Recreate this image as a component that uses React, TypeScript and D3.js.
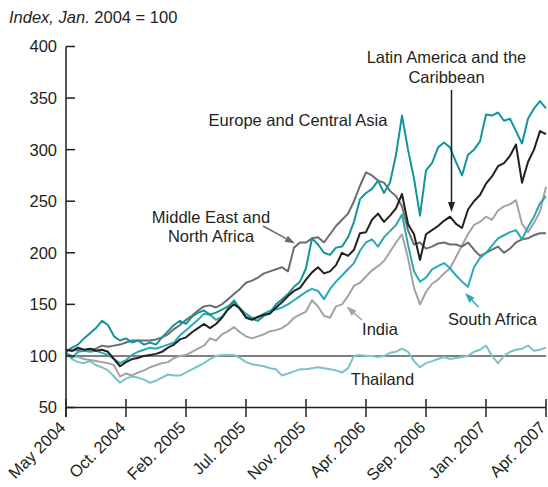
import React from "react";
import * as d3 from "d3";

// x index: 81 evenly spaced observations, May 2004 .. Apr 2007
const tickLabels = ["May 2004", "Oct. 2004", "Feb. 2005", "Jul. 2005", "Nov. 2005", "Apr. 2006", "Sep. 2006", "Jan. 2007", "Apr. 2007"];
const tickIndex = [0, 10, 20, 30, 40, 50, 60, 70, 80];
const yTicks = [50, 100, 150, 200, 250, 300, 350, 400];

const europe = [104, 108, 111, 117, 122, 127, 134, 130, 119, 115, 117, 113, 115, 111, 113, 111, 118, 124, 130, 134, 131, 138, 142, 144, 140, 142, 145, 148, 153, 145, 138, 136, 134, 139, 142, 150, 155, 160, 167, 172, 185, 214, 208, 200, 198, 205, 206, 215, 230, 252, 258, 262, 270, 258, 268, 295, 333, 300, 272, 236, 280, 287, 302, 307, 302, 288, 275, 295, 300, 308, 334, 333, 336, 328, 330, 318, 306, 330, 340, 347, 340];
const latin = [106, 105, 108, 106, 107, 105, 106, 104, 97, 90, 94, 97, 98, 100, 101, 102, 104, 108, 111, 116, 118, 123, 127, 131, 127, 131, 137, 145, 150, 146, 137, 135, 138, 140, 141, 147, 152, 158, 163, 166, 174, 181, 186, 180, 182, 188, 200, 197, 203, 219, 220, 232, 238, 230, 236, 243, 257, 228, 218, 193, 218, 222, 226, 231, 235, 228, 224, 242, 250, 256, 267, 274, 284, 287, 294, 305, 268, 288, 300, 318, 315];
const mena = [106, 105, 106, 105, 106, 107, 110, 109, 110, 111, 113, 115, 115, 115, 115, 116, 118, 121, 126, 130, 135, 139, 144, 148, 149, 147, 150, 155, 160, 165, 171, 173, 176, 180, 182, 184, 186, 182, 205, 210, 210, 214, 215, 210, 218, 226, 232, 238, 250, 265, 278, 275, 270, 268, 260, 255, 245, 222, 208, 210, 204, 206, 209, 210, 208, 208, 206, 210, 203, 197, 200, 203, 206, 200, 204, 210, 213, 214, 217, 219, 219];
const india = [103, 100, 99, 97, 96, 95, 94, 93, 91, 80, 83, 81, 84, 86, 89, 91, 93, 94, 98, 100, 101, 104, 107, 110, 117, 115, 121, 124, 128, 123, 119, 117, 119, 121, 124, 125, 127, 131, 137, 140, 143, 154, 148, 139, 137, 148, 150, 158, 168, 171, 177, 183, 187, 192, 201, 210, 218, 195, 166, 150, 162, 170, 174, 180, 185, 196, 207, 218, 227, 230, 235, 232, 241, 245, 247, 251, 228, 220, 229, 240, 264];
const southAfrica = [103, 98, 104, 105, 104, 105, 103, 101, 97, 93, 96, 101, 104, 106, 108, 107, 109, 111, 113, 120, 125, 130, 135, 141, 140, 135, 138, 146, 154, 146, 141, 137, 137, 141, 144, 145, 147, 150, 154, 158, 162, 165, 163, 155, 165, 172, 178, 184, 190, 202, 210, 213, 206, 215, 221, 227, 237, 208, 182, 172, 176, 184, 187, 190, 185, 178, 172, 167, 186, 195, 200, 207, 214, 217, 220, 222, 213, 225, 235, 248, 255];
const thailand = [103, 97, 94, 93, 95, 91, 89, 86, 80, 74, 78, 80, 79, 77, 74, 76, 79, 82, 81, 81, 84, 87, 90, 93, 97, 100, 101, 101, 101, 98, 94, 92, 91, 90, 88, 87, 81, 83, 85, 87, 87, 88, 89, 88, 87, 86, 84, 88, 100, 101, 100, 100, 99, 100, 103, 104, 107, 104, 95, 89, 93, 95, 97, 99, 97, 98, 99, 100, 104, 106, 110, 100, 93, 100, 104, 106, 107, 110, 105, 106, 108];

const series = [
  { name: "Thailand", values: thailand, color: "#7cc3c8" },
  { name: "India", values: india, color: "#a2a3a5" },
  { name: "Middle East and North Africa", values: mena, color: "#6b6c6e" },
  { name: "South Africa", values: southAfrica, color: "#2aa9b2" },
  { name: "Europe and Central Asia", values: europe, color: "#11959d" },
  { name: "Latin America and the Caribbean", values: latin, color: "#222021" },
];

const W = 548;
const H = 487;
const FONT = "'Liberation Sans', Arial, Helvetica, sans-serif";
const FS = 16.5;

function Arrow({ x1, y1, x2, y2, color }: { x1: number; y1: number; x2: number; y2: number; color: string }) {
  const ang = Math.atan2(y2 - y1, x2 - x1);
  const len = 10;
  const half = 3.5;
  const bx = x2 - len * Math.cos(ang);
  const by = y2 - len * Math.sin(ang);
  const px = -Math.sin(ang) * half;
  const py = Math.cos(ang) * half;
  return (
    <g>
      <line x1={x1} y1={y1} x2={bx} y2={by} stroke={color} strokeWidth={1.5} />
      <polygon points={`${x2},${y2} ${bx + px},${by + py} ${bx - px},${by - py}`} fill={color} />
    </g>
  );
}

export default function App() {
  const x = d3.scaleLinear().domain([0, 80]).range([66, 546]);
  const y = d3.scaleLinear().domain([50, 400]).range([407.5, 46.5]);
  const line = d3
    .line<number>()
    .x((_, i) => x(i))
    .y((d) => y(d));
  const axisY = y(50);

  return (
    <svg
      width={W}
      height={H}
      style={{ position: "absolute", left: 0, top: 0, background: "#fff" }}
      fontFamily={FONT}
    >
      <text x={9} y={23} fontSize={FS} fill="#231f20">
        <tspan fontStyle="italic">Index, Jan.</tspan>
        <tspan> 2004 = 100</tspan>
      </text>

      {/* reference line at 100 */}
      <line x1={x(0)} x2={x(80)} y1={y(100)} y2={y(100)} stroke="#555" strokeWidth={1.5} />

      {series.map((s) => (
        <path key={s.name} d={line(s.values) || ""} fill="none" stroke={s.color} strokeWidth={2} strokeLinejoin="round" />
      ))}

      {/* y axis */}
      <line x1={x(0)} x2={x(0)} y1={y(400)} y2={axisY + 9.5} stroke="#231f20" strokeWidth={1.5} />
      {yTicks.map((t) => (
        <g key={t}>
          <line x1={x(0)} x2={x(0) + 9} y1={y(t)} y2={y(t)} stroke="#231f20" strokeWidth={1.5} />
          <text x={57} y={y(t)} dy="0.36em" textAnchor="end" fontSize={FS} fill="#231f20">
            {t}
          </text>
        </g>
      ))}

      {/* x axis */}
      <line x1={x(0)} x2={x(80)} y1={axisY} y2={axisY} stroke="#231f20" strokeWidth={1.5} />
      {tickIndex.map((ti, k) => (
        <g key={ti}>
          <line x1={x(ti)} x2={x(ti)} y1={axisY - 8.5} y2={axisY + 9.5} stroke="#231f20" strokeWidth={1.5} />
          <text
            transform={`translate(${x(ti) + 0.5},${axisY + 21}) rotate(-45)`}
            textAnchor="end"
            fontSize={FS}
            fill="#231f20"
          >
            {tickLabels[k]}
          </text>
        </g>
      ))}

      {/* annotations */}
      <text x={298} y={126} textAnchor="middle" fontSize={FS} fill="#231f20">Europe and Central Asia</text>
      <text x={446.5} y={63} textAnchor="middle" fontSize={FS} fill="#231f20">Latin America and the</text>
      <text x={446.5} y={83} textAnchor="middle" fontSize={FS} fill="#231f20">Caribbean</text>
      <Arrow x1={451.5} y1={90} x2={451.5} y2={212} color="#231f20" />

      <text x={211} y={222.5} textAnchor="middle" fontSize={FS} fill="#231f20">Middle East and</text>
      <text x={211} y={241.5} textAnchor="middle" fontSize={FS} fill="#231f20">North Africa</text>
      <Arrow x1={263} y1={226} x2={295} y2={243.5} color="#6b6c6e" />

      <text x={380} y={335} textAnchor="middle" fontSize={FS} fill="#231f20">India</text>
      <Arrow x1={362} y1={320} x2={346.5} y2={306.5} color="#a2a3a5" />

      <text x={492.5} y={325} textAnchor="middle" fontSize={FS} fill="#231f20">South Africa</text>
      <Arrow x1={478.5} y1={307} x2={465} y2={293} color="#2aa9b2" />

      <text x={382.5} y={385} textAnchor="middle" fontSize={FS} fill="#231f20">Thailand</text>
    </svg>
  );
}
